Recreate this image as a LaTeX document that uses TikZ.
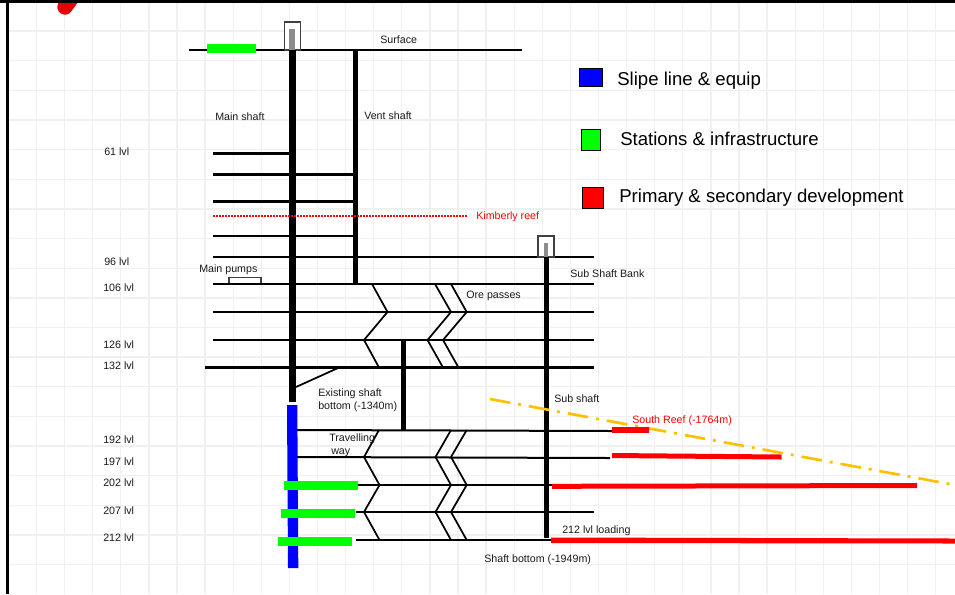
\documentclass[tikz,border=0pt]{standalone}
\usepackage{fontspec}
\setmainfont{Liberation Sans}
\definecolor{gridc}{HTML}{F0F0F0}
\definecolor{txt}{HTML}{1A1A1A}
\definecolor{reefy}{HTML}{FFC000}
\tikzset{
 lbl/.style={anchor=base west,inner sep=0pt,font=\fontsize{8pt}{9pt}\selectfont,text=txt},
 redlbl/.style={lbl,text=red},
 leg/.style={anchor=base west,inner sep=0pt,font=\fontsize{13.95pt}{15pt}\selectfont,text=black},
 lvlA/.style={line width=2.2pt,black},
 lvlB/.style={line width=1.5pt,black},
 chev/.style={line width=1.3pt,black},
 shaftM/.style={line width=5.4pt,black},
 shaftV/.style={line width=3.8pt,black},
 boxh/.style={draw=black!75,line width=0.8pt,fill=white},
 hatch/.style={fill=black!45},
 legbox/.style={draw=black,line width=0.7pt},
}
\begin{document}
\begin{tikzpicture}[x=0.75pt,y=-0.75pt]
\useasboundingbox (0,0) rectangle (955,594);
\fill[white] (0,0) rectangle (955,594);
% grid
\foreach \k in {0,...,32} \draw[gridc,line width=1pt] ({36.5+28.1*\k},0) -- ({36.5+28.1*\k},594);
\foreach \k in {0,...,18} \draw[gridc,line width=1pt] (9,{31+29.65*\k}) -- (955,{31+29.65*\k});
% red blob
\draw[red!90!black,line width=11.5pt,line cap=round] (65,7) -- (73,-4);
% border
\fill[black] (0,0) rectangle (955,3);
\fill[black] (6,0) rectangle (9,594);
% surface
\draw[lvlB] (189,50) -- (522,50);
\fill[green] (207,44) rectangle (256,53);
\draw[boxh] (284.5,22) rectangle (300.5,50);
\fill[hatch] (289,29) rectangle (295,50);
% levels
\draw[lvlA] (213,153.5) -- (289,153.5);
\draw[lvlA] (213,174.5) -- (353,174.5);
\draw[lvlA] (213,201.5) -- (353,201.5);
\draw[lvlB] (213,236) -- (353,236);
\draw[lvlB] (213,257) -- (594,257);
\draw[boxh] (229,277.5) rectangle (261,284);
\draw[lvlB] (213,284) -- (594,284);
\draw[lvlB] (213,312) -- (594,312);
\draw[lvlB] (213,340) -- (594,340);
\draw[lvlA] (205,367.5) -- (594,367.5);
% shafts
\draw[shaftM] (292.5,50) -- (292.5,402);
\draw[shaftV] (355.5,50) -- (355.5,284);
\draw[shaftV] (403.5,340) -- (403.5,430);
% kimberly
\draw[red,line width=1.5pt,dash pattern=on 1.5pt off 0.75pt] (213,215.5) -- (467,215.5);
% upper ore passes
\draw[chev] (372,284) -- (387.5,312) -- (364,340) -- (379,367.5);
\draw[chev] (435,284) -- (451,312) -- (427.5,340) -- (443,367.5);
\draw[chev] (451,284) -- (466.7,312) -- (443,340) -- (458.5,367.5);
\draw[chev] (296,387) -- (338,368);
% lower levels
\draw[lvlB] (297,430) -- (612,431);
\draw[lvlB] (297,457) -- (610,458);
\draw[lvlB] (358,485) -- (594,485);
\draw[lvlB] (356,512) -- (594,512);
\draw[lvlB] (356,540) -- (551,540);
% lower ore passes
\draw[chev] (379,430) -- (364,457) -- (379.5,485) -- (364,512) -- (379.5,540);
\draw[chev] (451,430) -- (435.5,457) -- (451,485) -- (435.5,512) -- (451,540);
\draw[chev] (466.7,430) -- (451,457) -- (466.7,485) -- (451,512) -- (466.7,540);
% sub shaft
\draw[boxh] (538,236) rectangle (554,257);
\fill[hatch] (544,243) rectangle (548,257);
\draw[shaftV] (546.5,257) -- (546.5,538);
% blue extension
\fill[blue] (287,405) -- (297.3,405) -- (298.3,568) -- (288,568) -- cycle;
% stations
\fill[green] (284,481) rectangle (358,490);
\fill[green] (281,509) rectangle (355,518);
\fill[green] (278,537) rectangle (352,546);
% reef
\draw[reefy,line width=2pt,dash pattern=on 15.5pt off 6pt on 2.2pt off 6pt] (490,399) -- (955,485);
% development
\fill[red] (612,427) rectangle (649,432.7);
\fill[red] (612,453) -- (781.7,454.5) -- (781.7,459.5) -- (612,458) -- cycle;
\fill[red] (552,483.8) -- (917,483) -- (917,488) -- (552,488.8) -- cycle;
\fill[red] (551,537.5) -- (955,538.5) -- (955,543.5) -- (551,543) -- cycle;
% labels
\node[lbl] (n1) at (380,43) {Surface};
\node[lbl] (n2) at (215,120) {Main shaft};
\node[lbl] (n3) at (364,119) {Vent shaft};
\node[lbl] (n4) at (104,155) {61 lvl};
\node[lbl] (n5) at (104,265) {96 lvl};
\node[lbl] (n6) at (103,291) {106 lvl};
\node[lbl] (n7) at (103,348) {126 lvl};
\node[lbl] (n8) at (103,369) {132 lvl};
\node[lbl] (n9) at (103,443) {192 lvl};
\node[lbl] (n10) at (103,465) {197 lvl};
\node[lbl] (n11) at (103,486) {202 lvl};
\node[lbl] (n12) at (103,514) {207 lvl};
\node[lbl] (n13) at (103,541) {212 lvl};
\node[lbl] (n14) at (199,272) {Main pumps};
\node[lbl] (n15) at (466,298) {Ore passes};
\node[lbl] (n16) at (570,277) {Sub Shaft Bank};
\node[lbl] (n17) at (318,396) {Existing shaft};
\node[lbl] (n18) at (318,409) {bottom (-1340m)};
\node[lbl] (n19) at (329,441) {Travelling};
\node[lbl] (n20) at (331,454) {way};
\node[lbl] (n21) at (554,402) {Sub shaft};
\node[lbl] (n22) at (562,533) {212 lvl loading};
\node[lbl] (n23) at (484,562) {Shaft bottom (-1949m)};
\node[redlbl] (n24) at (476,219) {Kimberly reef};
\node[redlbl] (n25) at (632,423) {South Reef (-1764m)};
% legend
\fill[blue] (579.5,68.5) rectangle (602,86.5);
\draw[legbox] (579.5,68.5) rectangle (602,86.5);
\fill[green] (581,129.5) rectangle (600.5,150.5);
\draw[legbox] (581,129.5) rectangle (600.5,150.5);
\fill[red] (582.5,187.5) rectangle (603,208.5);
\draw[legbox] (582.5,187.5) rectangle (603,208.5);
\node[leg] (l1) at (617,85) {Slipe line \& equip};
\node[leg] (l2) at (620,145) {Stations \& infrastructure};
\node[leg] (l3) at (619,202) {Primary \& secondary development};
\end{tikzpicture}
\end{document}
